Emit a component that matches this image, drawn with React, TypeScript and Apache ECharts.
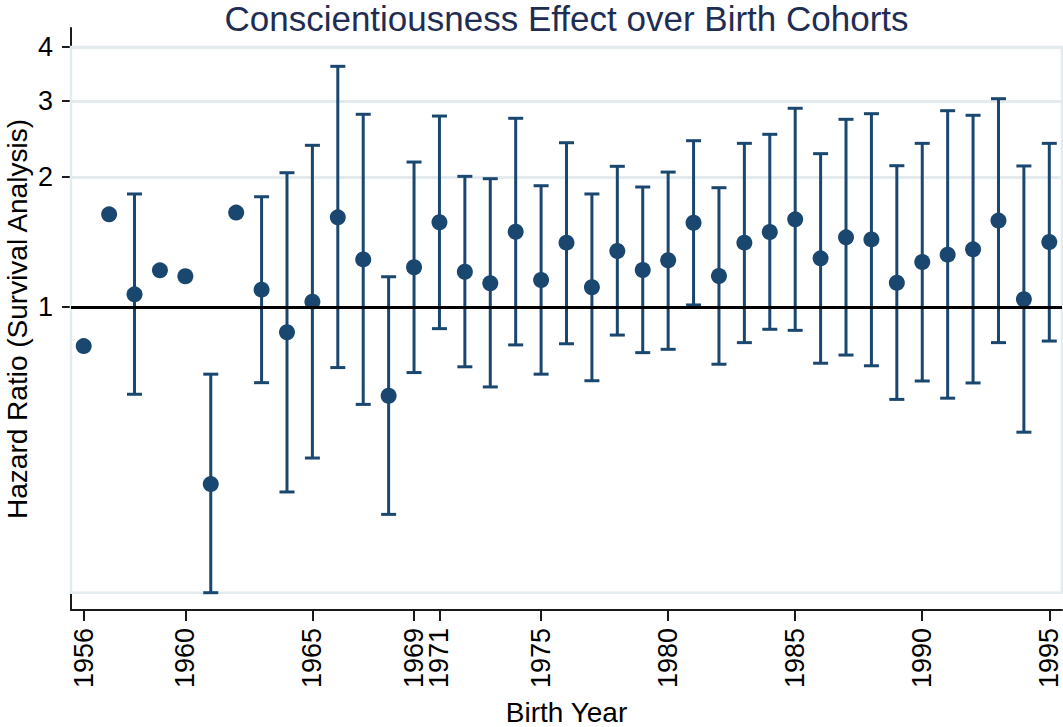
import React, { useEffect, useRef } from "react";
import * as echarts from "echarts";

const years = [
  "1956", "1957", "1958", "1959", "1960", "1961", "1962", "1963", "1964", "1965",
  "1966", "1967", "1968", "1969", "1971", "1972", "1973", "1974", "1975", "1976",
  "1977", "1978", "1979", "1980", "1981", "1982", "1983", "1984", "1985", "1986",
  "1987", "1988", "1989", "1990", "1991", "1992", "1993", "1994", "1995",
];

const hazardRatio = [
  0.812, 1.639, 1.07, 1.216, 1.178, 0.389, 1.654, 1.097, 0.874, 1.029,
  1.613, 1.289, 0.623, 1.236, 1.571, 1.207, 1.135, 1.494, 1.155, 1.409,
  1.111, 1.348, 1.218, 1.283, 1.567, 1.18, 1.409, 1.492, 1.596, 1.296,
  1.45, 1.434, 1.138, 1.271, 1.322, 1.36, 1.585, 1.042, 1.414,
];

const ciLower: (number | null)[] = [
  null, null, 0.628, null, null, 0.218, null, 0.668, 0.373, 0.447,
  0.724, 0.595, 0.331, 0.705, 0.891, 0.727, 0.653, 0.817, 0.699, 0.822,
  0.675, 0.861, 0.784, 0.798, 1.011, 0.737, 0.827, 0.888, 0.883, 0.741,
  0.774, 0.731, 0.611, 0.674, 0.615, 0.667, 0.827, 0.513, 0.834,
];

const ciUpper: (number | null)[] = [
  null, null, 1.827, null, null, 0.699, null, 1.8, 2.046, 2.368,
  3.608, 2.794, 1.175, 2.166, 2.768, 2.007, 1.982, 2.735, 1.909, 2.401,
  1.827, 2.117, 1.896, 2.053, 2.427, 1.889, 2.393, 2.511, 2.885, 2.265,
  2.72, 2.803, 2.124, 2.393, 2.848, 2.779, 3.036, 2.121, 2.393,
];

const xTickLabels = ["1956", "1960", "1965", "1969", "1971", "1975", "1980", "1985", "1990", "1995"];
const yTickValues = [1, 2, 3, 4];

const NAVY = "#1a476f";
const GRID_COLOR = "#e4ebee";
const FONT = "'Liberation Sans', Arial, Helvetica, sans-serif";

export default function App() {
  const ref = useRef<HTMLDivElement>(null);

  useEffect(() => {
    if (!ref.current) return;
    const chart = echarts.init(ref.current, null, { renderer: "svg" });

    const ciData = years
      .map((_, i) => (ciLower[i] != null && ciUpper[i] != null ? [i, ciLower[i], ciUpper[i]] : null))
      .filter((d) => d !== null);

    const lows = ciLower.filter((v) => v != null) as number[];
    const minLow = Math.min(...lows);
    const topTick = Math.max(...yTickValues);

    const option: any = {
      animation: false,
      backgroundColor: "#ffffff",
      textStyle: { fontFamily: FONT },
      graphic: [
        {
          type: "text",
          x: 566.5,
          y: 18,
          style: {
            text: "Conscientiousness Effect over Birth Cohorts",
            fill: "#1f2d52",
            font: `35px ${FONT}`,
            align: "center",
            verticalAlign: "middle",
          },
        },
      ],
      grid: { left: 71, right: 1, top: 28, bottom: 117, containLabel: false, outerBoundsMode: "none" },
      xAxis: {
        type: "category",
        data: years,
        boundaryGap: true,
        name: "Birth Year",
        nameLocation: "middle",
        nameGap: 88,
        nameMoveOverlap: false,
        nameTextStyle: { fontSize: 28, color: "#000", fontFamily: FONT },
        axisLine: { show: true, onZero: false, lineStyle: { color: "#1a1a1a", width: 2 } },
        axisTick: {
          show: true,
          alignWithLabel: true,
          length: 11,
          interval: (_i: number, v: string) => xTickLabels.includes(v),
          lineStyle: { color: "#1a1a1a", width: 2 },
        },
        axisLabel: {
          rotate: 90,
          margin: 18,
          fontSize: 27,
          color: "#000",
          fontFamily: FONT,
          interval: (_i: number, v: string) => xTickLabels.includes(v),
        },
        splitLine: { show: false },
      },
      yAxis: {
        type: "log",
        logBase: 10,
        min: 0.1988,
        max: 4.426,
        name: "Hazard Ratio (Survival Analysis)",
        nameLocation: "middle",
        nameGap: 40,
        nameMoveOverlap: false,
        nameTextStyle: { fontSize: 28, color: "#000", fontFamily: FONT },
        axisLine: { show: true, onZero: false, lineStyle: { color: "#1a1a1a", width: 2 } },
        axisTick: {
          show: true,
          length: 9,
          customValues: yTickValues,
          lineStyle: { color: "#1a1a1a", width: 2 },
        },
        axisLabel: {
          margin: 18,
          fontSize: 27,
          color: "#000",
          fontFamily: FONT,
          customValues: yTickValues,
          formatter: (v: number) => String(Math.round(v)),
        },
        splitLine: { show: true, lineStyle: { color: GRID_COLOR, width: 3 } },
        minorTick: { show: false },
        minorSplitLine: { show: false },
      },
      series: [
        {
          type: "custom",
          name: "ref",
          data: [],
          renderItem: () => null,
          markArea: {
            silent: true,
            itemStyle: { color: "rgba(0,0,0,0)", borderColor: GRID_COLOR, borderWidth: 2.5 },
            data: [[{ yAxis: minLow }, { yAxis: topTick }]],
          },
          markLine: {
            silent: true,
            symbol: "none",
            label: { show: false },
            lineStyle: { color: "#000", width: 3, type: "solid" },
            data: [{ yAxis: 1 }],
          },
          z: 1,
        },
        {
          type: "custom",
          name: "CI",
          data: ciData,
          encode: { x: 0, y: [1, 2] },
          z: 3,
          renderItem: (_params: any, api: any) => {
            const x = api.value(0);
            const lo = api.coord([x, api.value(1)]);
            const hi = api.coord([x, api.value(2)]);
            const hw = 7.5;
            const style = { stroke: NAVY, lineWidth: 3 };
            return {
              type: "group",
              children: [
                { type: "line", shape: { x1: lo[0], y1: lo[1], x2: hi[0], y2: hi[1] }, style },
                { type: "line", shape: { x1: lo[0] - hw, y1: lo[1], x2: lo[0] + hw, y2: lo[1] }, style },
                { type: "line", shape: { x1: hi[0] - hw, y1: hi[1], x2: hi[0] + hw, y2: hi[1] }, style },
              ],
            };
          },
        },
        {
          type: "scatter",
          name: "HR",
          data: hazardRatio,
          symbol: "circle",
          symbolSize: 16,
          itemStyle: { color: NAVY, opacity: 1 },
          z: 4,
        },
      ],
    };

    chart.setOption(option);
    return () => chart.dispose();
  }, []);

  return <div ref={ref} style={{ width: 1063, height: 727, position: "absolute", left: 0, top: 0 }} />;
}
